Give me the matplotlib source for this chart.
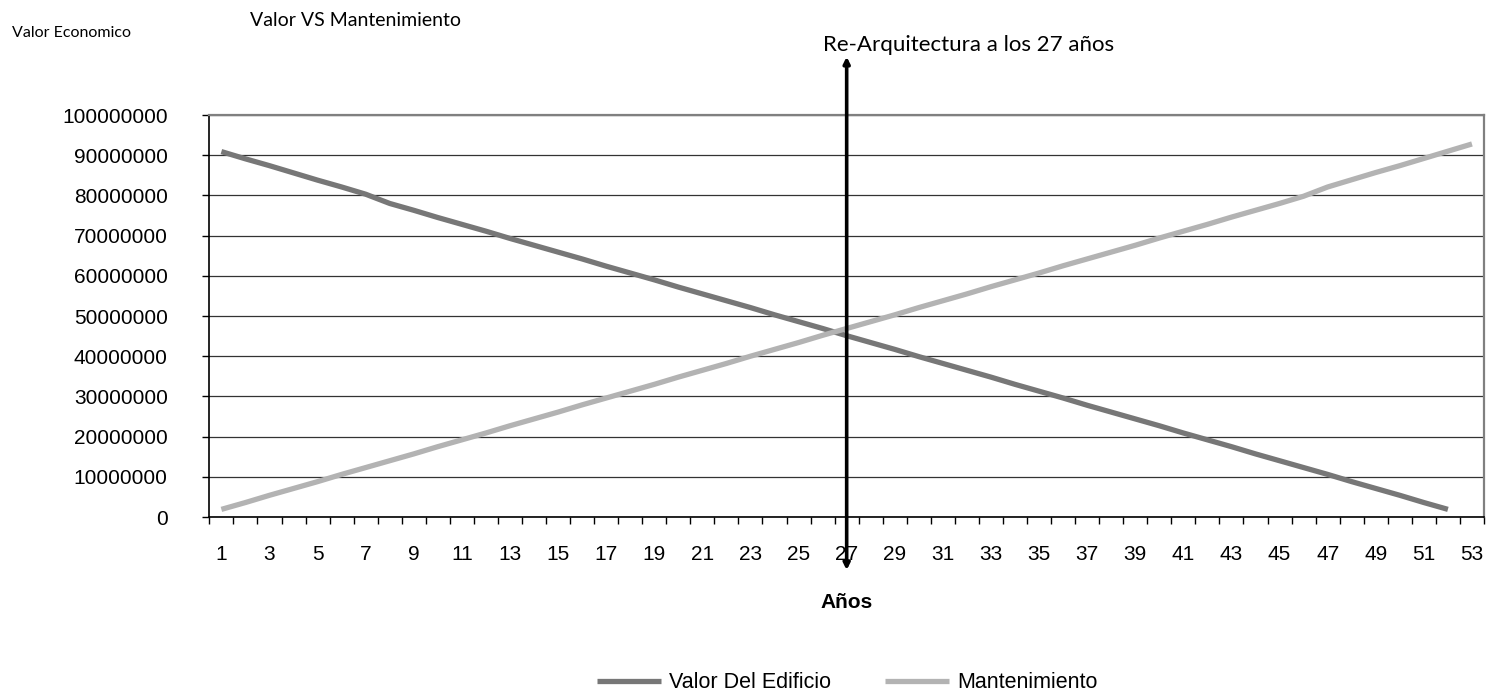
import numpy as np
import matplotlib
matplotlib.use('Agg')
import matplotlib.pyplot as plt

plt.rcParams['font.family'] = ['Liberation Sans', 'DejaVu Sans']

# Building value vs maintenance cost, in millions
years = list(range(1, 54))
valor_edificio = [90.9, 89.1, 87.4, 85.6, 83.8, 82.1, 80.3, 78.0, 76.3, 74.5,
                  72.8, 71.1, 69.3, 67.6, 65.9, 64.2, 62.4, 60.7, 59.0, 57.2,
                  55.5, 53.8, 52.1, 50.3, 48.6, 46.9, 45.1, 43.4, 41.7, 39.9,
                  38.2, 36.5, 34.8, 33.0, 31.3, 29.6, 27.8, 26.1, 24.4, 22.7,
                  20.9, 19.2, 17.5, 15.7, 14.0, 12.3, 10.6, 8.8, 7.1, 5.4,
                  3.6, 1.9]
mantenimiento = [1.9, 3.6, 5.4, 7.1, 8.8, 10.6, 12.3, 14.0, 15.7, 17.5,
                 19.2, 20.9, 22.7, 24.4, 26.1, 27.9, 29.6, 31.3, 33.0, 34.8,
                 36.5, 38.2, 40.0, 41.7, 43.4, 45.2, 46.9, 48.6, 50.3, 52.1,
                 53.8, 55.5, 57.3, 59.0, 60.7, 62.5, 64.2, 65.9, 67.6, 69.4,
                 71.1, 72.8, 74.6, 76.3, 78.0, 79.8, 82.1, 83.9, 85.7, 87.4,
                 89.2, 91.0, 92.8]
y_ticks = list(range(0, 100000001, 10000000))
x_labels = list(range(1, 54, 2))
year_mark = 27

fig = plt.figure(figsize=(14.88, 6.95), dpi=100)
ax = fig.add_axes([0.1407, 0.2561, 0.8566, 0.5784])

v = np.array(valor_edificio) * 1e6
m = np.array(mantenimiento) * 1e6
ax.plot(years[:len(v)], v, color='#777777', lw=3.8, solid_capstyle='butt',
        solid_joinstyle='round', label='Valor Del Edificio', zorder=3)
ax.plot(years, m, color='#b3b3b3', lw=3.8, solid_capstyle='butt',
        solid_joinstyle='round', label='Mantenimiento', zorder=3)

ax.set_xlim(0.5, 53.5)
ax.set_ylim(0, 100000000)

ax.set_yticks(y_ticks)
ax.set_yticklabels([str(t) for t in y_ticks], fontsize=15)
ax.tick_params(axis='y', length=5, width=1, color='black', pad=25, direction='out')
ax.yaxis.grid(True, color='#333333', lw=0.9)
ax.set_axisbelow(True)

ax.set_xticks(x_labels)
ax.set_xticklabels([str(t) for t in x_labels], fontsize=15)
ax.set_xticks(np.arange(0.5, 54, 1), minor=True)
ax.tick_params(axis='x', which='major', length=0, pad=20)
ax.tick_params(axis='x', which='minor', length=5, width=1, color='black',
               direction='out')

for side in ['left', 'bottom']:
    ax.spines[side].set_color('black')
    ax.spines[side].set_linewidth(1.2)
for side in ['top', 'right']:
    ax.spines[side].set_color('#808080')
    ax.spines[side].set_linewidth(1.6)

# two-headed marker at the re-architecture year
ax.annotate('', xy=(year_mark, -0.132), xytext=(year_mark, 1.145),
            xycoords=('data', 'axes fraction'),
            textcoords=('data', 'axes fraction'),
            arrowprops=dict(arrowstyle='<|-|>', lw=2.6, color='black',
                            mutation_scale=9, shrinkA=0, shrinkB=0),
            annotation_clip=False, zorder=5)

hand = ['Lato', 'DejaVu Sans']
fig.text(823 / 1488, 1 - 45 / 695, 'Re-Arquitectura a los 27 años',
         fontsize=16, family=hand, color='black', va='center', ha='left')
fig.text(250 / 1488, 1 - 20 / 695, 'Valor VS Mantenimiento',
         fontsize=14, family=hand, color='black', va='center', ha='left')
fig.text(12 / 1488, 1 - 33 / 695, 'Valor Economico',
         fontsize=11.5, family=hand, color='black', va='center', ha='left')

fig.text(847 / 1488, 1 - 603 / 695, 'Años', fontsize=15, weight='bold',
         ha='center', va='center')

fig.legend(loc='center', bbox_to_anchor=(847 / 1488, 1 - 683 / 695), ncol=2,
           frameon=False, fontsize=15.5, handlelength=3.0, handletextpad=0.35,
           columnspacing=2.5)

fig.savefig('out.png', dpi=100)
